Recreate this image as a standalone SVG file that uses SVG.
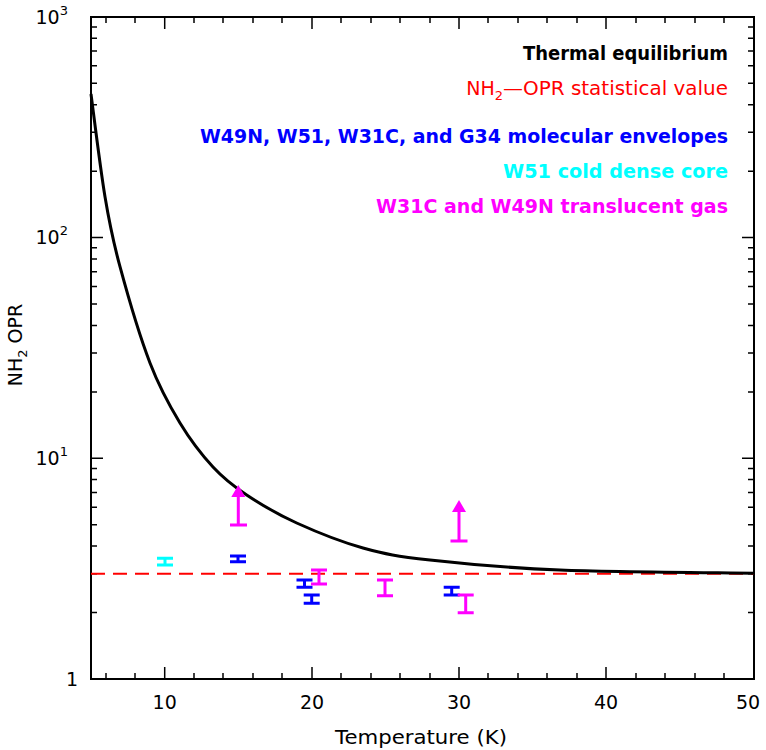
<svg xmlns="http://www.w3.org/2000/svg" width="766" height="750" viewBox="0 0 766 750">
<style>
.ax{fill:none;stroke:#000;stroke-width:2}
.tk{stroke:#000;stroke-width:1.5}
.lb{font-family:"DejaVu Sans",sans-serif;font-size:19px}
.lg{font-family:"DejaVu Sans",sans-serif;font-size:19px;font-weight:bold}
.eb{fill:none;stroke-width:3}
</style>
<rect width="766" height="750" fill="#fff"/>
<g id="axes">
<rect class="ax" x="91" y="17" width="663" height="662"/>
<path class="tk" d="M91 679v-12M91 17v12M164.7 679v-12M164.7 17v12M312 679v-12M312 17v12M459 679v-12M459 17v12M606 679v-12M606 17v12M106 679v-6M135 679v-6M194 679v-6M223 679v-6M253 679v-6M282 679v-6M341 679v-6M371 679v-6M400 679v-6M430 679v-6M488 679v-6M518 679v-6M547 679v-6M577 679v-6M636 679v-6M665 679v-6M695 679v-6M724 679v-6M106 17v6M135 17v6M194 17v6M223 17v6M253 17v6M282 17v6M341 17v6M371 17v6M400 17v6M430 17v6M488 17v6M518 17v6M547 17v6M577 17v6M636 17v6M665 17v6M695 17v6M724 17v6"/>
<path class="tk" d="M91 458.3h12M754 458.3h-12M91 237.6h12M754 237.6h-12M91 612.6h6M91 573.7h6M91 546.1h6M91 524.7h6M91 507.2h6M91 492.4h6M91 479.6h6M91 468.4h6M91 391.9h6M91 353h6M91 325.4h6M91 304h6M91 286.5h6M91 271.7h6M91 258.9h6M91 247.7h6M91 171.2h6M91 132.3h6M91 104.7h6M91 83.3h6M91 65.8h6M91 51h6M91 38.2h6M91 27h6M754 612.6h-6M754 573.7h-6M754 546.1h-6M754 524.7h-6M754 507.2h-6M754 492.4h-6M754 479.6h-6M754 468.4h-6M754 391.9h-6M754 353h-6M754 325.4h-6M754 304h-6M754 286.5h-6M754 271.7h-6M754 258.9h-6M754 247.7h-6M754 171.2h-6M754 132.3h-6M754 104.7h-6M754 83.3h-6M754 65.8h-6M754 51h-6M754 38.2h-6M754 27h-6"/>
<g class="lb" text-anchor="middle">
<text x="164.7" y="709">10</text><text x="312" y="709">20</text><text x="459" y="709">30</text><text x="606" y="709">40</text><text x="748" y="709">50</text>
<text x="421" y="744" textLength="172" lengthAdjust="spacingAndGlyphs">Temperature (K)</text>
</g>
<g class="lb" text-anchor="end">
<text x="78" y="686">1</text>
<text x="68" y="465">10<tspan font-size="13" dy="-9">1</tspan></text>
<text x="68" y="244">10<tspan font-size="13" dy="-9">2</tspan></text>
<text x="68" y="24">10<tspan font-size="13" dy="-9">3</tspan></text>
</g>
<text class="lb" transform="translate(22 345) rotate(-90)" text-anchor="middle">NH<tspan font-size="13" dy="5">2</tspan><tspan dy="-5"> OPR</tspan></text>
</g>
<g id="connectors">
<path d="M91 573.7H754" stroke="#f00" stroke-width="2" stroke-dasharray="14 8"/>
<path d="M91 94C93.3 111.1 100.2 167.9 105 196.7C109.8 225.5 112.5 239 120 266.7C127.5 294.4 140 337 150 363C160 389 169.5 405.7 180 423C190.5 440.3 201.9 455 213 467C224.1 479 232.7 485.7 246.7 495C260.7 504.3 277.3 514.2 296.7 523C316.1 531.8 340.8 541.8 363 548C385.2 554.2 397.2 556.3 430 560C462.8 563.7 506 567.8 560 570C614 572.2 721.7 572.7 754 573.2" fill="none" stroke="#000" stroke-width="3"/>
</g>
<g id="data">
<path class="eb" stroke="#0ff" d="M157 558.3h16M157 565h16M165 558.3v6.7"/>
<path class="eb" stroke="#00f" d="M230 556h16M230 561.7h16M238 556v5.7"/>
<path class="eb" stroke="#00f" d="M296.5 580h16M296.5 587.3h16M304.5 580v7.3"/>
<path class="eb" stroke="#00f" d="M303.7 595h16M303.7 603.3h16M311.7 595v8.3"/>
<path class="eb" stroke="#00f" d="M443.7 587.3h16M443.7 595h16M451.7 587.3v7.7"/>
<path class="eb" stroke="#f0f" d="M311 570h16M311 584h16M319 570v14"/>
<path class="eb" stroke="#f0f" d="M377 580h16M377 595.7h16M385 580v15.7"/>
<path class="eb" stroke="#f0f" d="M457.7 595h16M457.7 612.7h16M465.7 595v17.7"/>
<path class="eb" stroke="#f0f" d="M230 525h17M238.3 525v-30"/>
<path fill="#f0f" d="M238.3 485l-7 12h14z"/>
<path class="eb" stroke="#f0f" d="M450.5 541h17M459 541v-31"/>
<path fill="#f0f" d="M459 500l-7 12h14z"/>
</g>
<g id="legend" text-anchor="end">
<text class="lg" x="728" y="60" fill="#000" textLength="205" lengthAdjust="spacingAndGlyphs">Thermal equilibrium</text>
<text class="lb" x="728" y="95" fill="#f00">NH<tspan font-size="13" dy="5">2</tspan><tspan dy="-5" textLength="225" lengthAdjust="spacingAndGlyphs">—OPR statistical value</tspan></text>
<text class="lg" x="728" y="143" fill="#00f" textLength="528" lengthAdjust="spacingAndGlyphs">W49N, W51, W31C, and G34 molecular envelopes</text>
<text class="lg" x="728" y="178" fill="#0ff" textLength="225" lengthAdjust="spacingAndGlyphs">W51 cold dense core</text>
<text class="lg" x="728" y="213" fill="#f0f" textLength="352" lengthAdjust="spacingAndGlyphs">W31C and W49N translucent gas</text>
</g>
</svg>
